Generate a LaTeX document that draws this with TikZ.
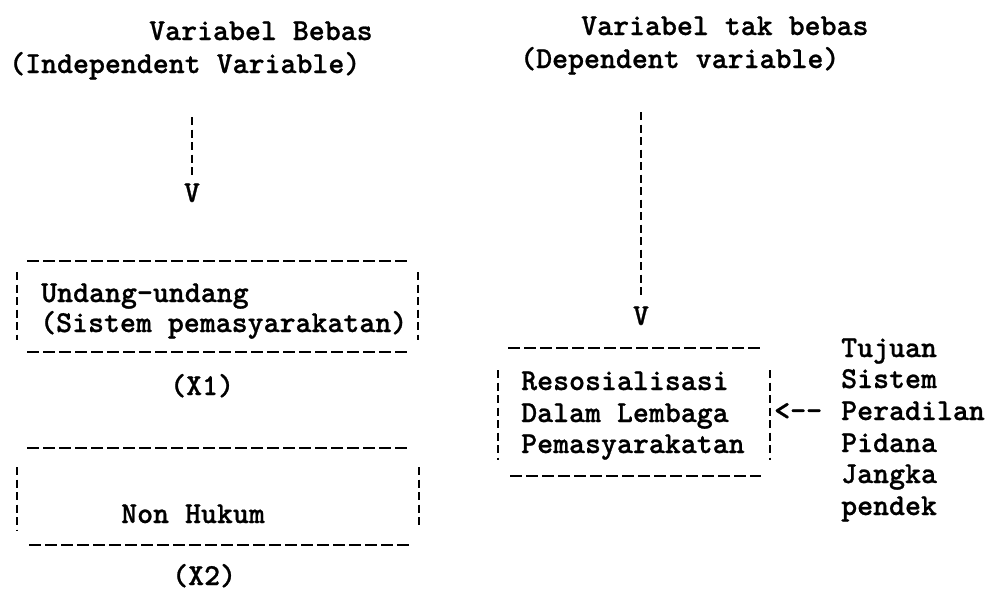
\documentclass[tikz,border=0pt]{standalone}
\usepackage{fontspec}
\newfontfamily\tw{lmmonolt10-bold.otf}[FakeBold=0.8]
\begin{document}
\begin{tikzpicture}[x=1pt,y=-1pt,
  txt/.style={anchor=base west,inner sep=0pt,font=\tw\fontsize{30.4}{32}\selectfont},
  hdash/.style={line width=2.9pt,dash pattern=on 11.5pt off 4.5pt},
  vdash/.style={line width=2.9pt,dash pattern=on 8pt off 4.5pt}]
\useasboundingbox[fill=white] (0,0) rectangle (991,590);
% headings
\node[txt] (hb1) at (149,40) {Variabel Bebas};
\node[txt] (hb2) at (9,73) {(Independent Variable)};
\node[txt] (ht1) at (581,35) {Variabel tak bebas};
\node[txt] (ht2) at (520,68) {(Dependent variable)};
% vertical arrows
\coordinate (la) at (192,117);
\node[txt,anchor=base] (lv) at (192,202) {V};
\draw[vdash] (la) -- (192,176);
\coordinate (ra) at (641,112);
\node[txt,anchor=base] (rv) at (641,325) {V};
\draw[vdash] (ra) -- (641,298);
% box 1
\draw[hdash] (27,261) -- (408,261);
\draw[hdash] (27,352) -- (408,352);
\draw[vdash] (17,272) -- (17,340);
\draw[vdash] (418,272) -- (418,340);
\node[txt] (u1) at (41,302) {Undang-undang};
\node[txt] (u2) at (40,332) {(Sistem pemasyarakatan)};
\node[txt] (x1) at (170,395) {(X1)};
% box 2
\draw[hdash] (27,448) -- (408,448);
\draw[hdash] (29,545) -- (410,545);
\draw[vdash] (17,467) -- (17,531);
\draw[vdash] (419,467) -- (419,527);
\node[txt] (nh) at (121,523) {Non Hukum};
\node[txt] (x2) at (172,585) {(X2)};
% right box
\draw[hdash] (508,348) -- (761,348);
\draw[hdash] (510,476) -- (761,476);
\draw[vdash] (498,370) -- (498,460);
\draw[vdash] (770,370) -- (770,460);
\node[txt] (r1) at (521,390) {Resosialisasi};
\node[txt] (r2) at (521,422) {Dalam Lembaga};
\node[txt] (r3) at (521,453) {Pemasyarakatan};
\node[txt] (arr) at (774,420) {<--};
% right column
\node[txt] (t1) at (841,357) {Tujuan};
\node[txt] (t2) at (841,388) {Sistem};
\node[txt] (t3) at (841,420) {Peradilan};
\node[txt] (t4) at (841,452) {Pidana};
\node[txt] (t5) at (841,483) {Jangka};
\node[txt] (t6) at (841,515) {pendek};
\end{tikzpicture}
\end{document}
